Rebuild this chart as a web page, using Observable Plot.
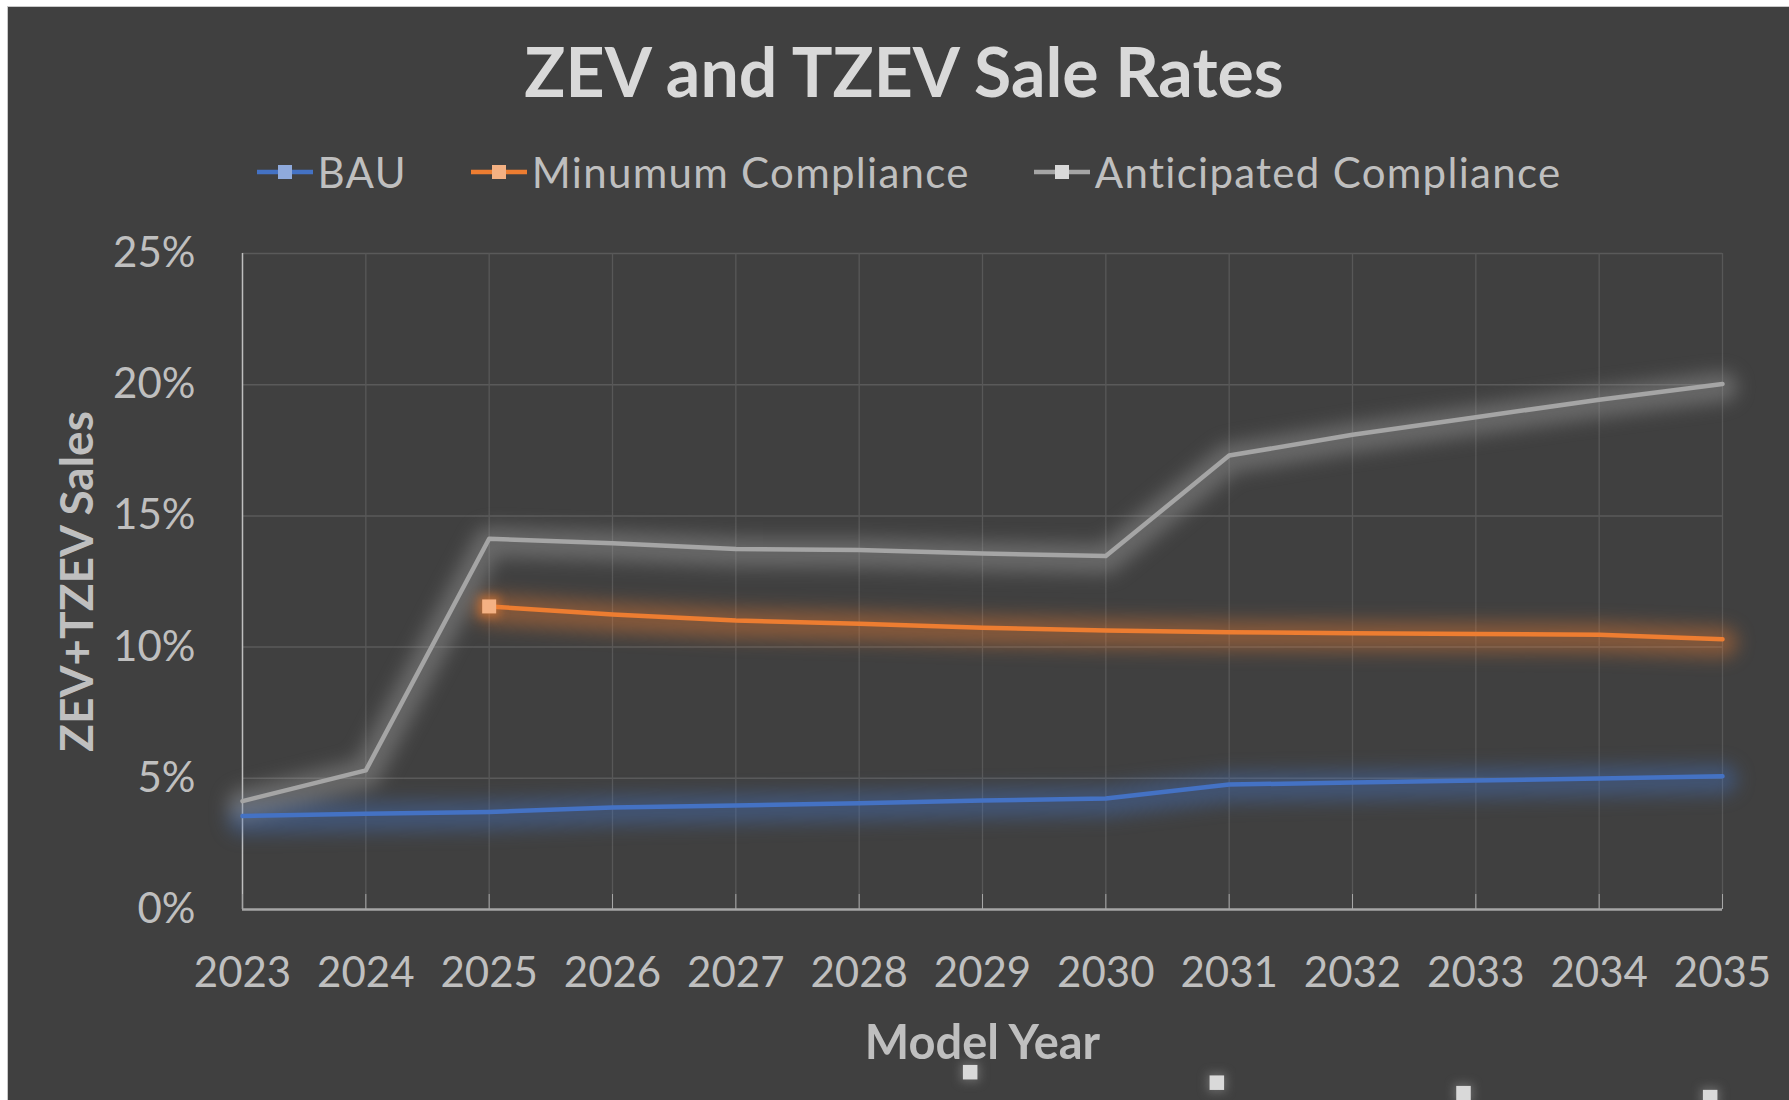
<!DOCTYPE html>
<html><head><meta charset="utf-8">
<script src="https://cdn.jsdelivr.net/npm/d3@7"></script>
<script src="https://cdn.jsdelivr.net/npm/@observablehq/plot@0.6"></script>
<style>
html,body{margin:0;padding:0;background:#fff;width:1789px;height:1100px;overflow:hidden}
#chart{position:absolute;left:7px;top:6px;width:1782px;height:1094px;background:#404040;border-left:1px solid #c9c9c9;border-top:1px solid #c9c9c9;font-family:Lato,sans-serif;overflow:hidden}
#header{position:relative;height:200px}
#title{position:absolute;left:10px;right:0;top:30px;text-align:center;font-weight:700;font-size:68px;line-height:1;color:#d9d9d9;white-space:nowrap}
#legend{position:absolute;left:20px;right:0;top:144px;display:flex;justify-content:center;align-items:center;font-size:42px;line-height:1;color:#bfbfbf;white-space:nowrap;letter-spacing:1.3px}
.item{display:flex;align-items:center;margin:0 32px}
.item svg{margin-right:5px}
#plot svg{display:block}
</style></head>
<body>
<div id="chart">
  <div id="header"><div id="title"></div><div id="legend"></div></div>
  <div id="plot"></div>
</div>
<script>
const titleText = "ZEV and TZEV Sale Rates";
const xLabel = "Model Year";
const yLabel = "ZEV+TZEV Sales";
const years = [2023, 2024, 2025, 2026, 2027, 2028, 2029, 2030, 2031, 2032, 2033, 2034, 2035];
const bau = [3.56, 3.65, 3.72, 3.89, 3.96, 4.05, 4.15, 4.23, 4.76, 4.84, 4.92, 4.99, 5.08];
const minimum = [null, null, 11.55, 11.24, 11.01, 10.89, 10.74, 10.63, 10.57, 10.53, 10.50, 10.47, 10.30];
const anticipated = [4.13, 5.30, 14.13, 13.96, 13.74, 13.70, 13.57, 13.47, 17.30, 18.09, 18.76, 19.43, 20.03];
const seriesNames = ["BAU", "Minumum Compliance", "Anticipated Compliance"];
const lineColors = ["#4472c4", "#ed7d31", "#a5a5a5"];
const markerColors = ["#8faadc", "#f4b183", "#d9d9d9"];
const yTicks = [0, 5, 10, 15, 20, 25];
// stray marker squares seen below the chart
const strayX = [2028.9, 2030.9, 2032.9, 2034.9];
const strayY = [-6.2, -6.6, -7.0, -7.15];

document.getElementById("title").textContent = titleText;
const legend = document.getElementById("legend");
seriesNames.forEach((name, i) => {
  const item = document.createElement("div");
  item.className = "item";
  item.innerHTML = `<svg width="56" height="20"><line x1="0" x2="56" y1="10" y2="10" stroke="${lineColors[i]}" stroke-width="4.5"/><rect x="21" y="3" width="14" height="14" fill="${markerColors[i]}"/></svg><span>${name}</span>`;
  legend.appendChild(item);
});

const rows = [];
[bau, minimum, anticipated].forEach((vals, s) => vals.forEach((v, i) => {
  if (v != null) rows.push({series: seriesNames[s], year: years[i], value: v});
}));
const firstMin = rows.filter(d => d.series === seriesNames[1]).slice(0, 1);
const stray = strayX.map((x, i) => ({year: x, value: strayY[i]}));

const svg = Plot.plot({
  width: 1781, height: 893,
  marginLeft: 234, marginRight: 67, marginTop: 46, marginBottom: 191,
  style: {fontFamily: "Lato, sans-serif", fontSize: "42px", color: "#bfbfbf", background: "transparent", overflow: "visible"},
  x: {domain: [years[0], years[years.length - 1]]},
  y: {domain: [yTicks[0], yTicks[yTicks.length - 1]]},
  color: {domain: seriesNames, range: lineColors},
  marks: [
    Plot.gridY(yTicks.slice(1), {stroke: "#5a5a5a", strokeOpacity: 1, strokeWidth: 1.5}),
    Plot.gridX(years.slice(1), {stroke: "#585858", strokeOpacity: 1, strokeWidth: 1.3}),
    Plot.ruleX([years[0]], {stroke: "#bfbfbf", strokeWidth: 1.5}),
    Plot.line(rows, {x: "year", y: "value", z: "series", stroke: "series", strokeWidth: 30, strokeOpacity: 0.4, dy: 3, imageFilter: "blur(9px)"}),
    Plot.line(rows, {x: "year", y: "value", z: "series", stroke: "series", strokeWidth: 4.5}),
    Plot.ruleY([0], {stroke: "#a6a6a6", strokeWidth: 2.5}),
    Plot.axisX({ticks: years, tickSize: 15, dy: -15, tickPadding: 48, tickFormat: d => String(d), label: null, stroke: "#a6a6a6", fill: "#bfbfbf", fontSize: 42}),
    Plot.axisY({ticks: yTicks, tickSize: 0, tickPadding: 47, tickFormat: d => d + "%", label: null, fill: "#bfbfbf", fontSize: 42}),
    Plot.dot(firstMin, {x: "year", y: "value", symbol: "square", r: 12, fill: lineColors[1], fillOpacity: 0.55, imageFilter: "blur(5px)"}),
    Plot.dot(firstMin, {x: "year", y: "value", symbol: "square", r: 7.9, fill: markerColors[1]}),
    Plot.dot(stray, {x: "year", y: "value", symbol: "square", r: 11, fill: "#9a9a9a", fillOpacity: 0.45, imageFilter: "blur(5px)"}),
    Plot.dot(stray, {x: "year", y: "value", symbol: "square", r: 8.2, fill: markerColors[2]}),
    Plot.text([xLabel], {frameAnchor: "bottom", dy: 134, lineAnchor: "middle", textAnchor: "middle", fontWeight: "bold", fontSize: 47, fill: "#bfbfbf"}),
    Plot.text([yLabel], {frameAnchor: "left", dx: -164, rotate: -90, lineAnchor: "middle", textAnchor: "middle", fontWeight: "bold", fontSize: 46, fill: "#bfbfbf"})
  ]
});
// fallback blur for glow layers if imageFilter is unsupported
svg.querySelectorAll("g").forEach(g => {
  const sw = g.getAttribute("stroke-width"), fo = g.getAttribute("fill-opacity");
  if (sw === "30" || fo === "0.55" || fo === "0.45") {
    if (!g.getAttribute("filter")) g.style.filter = sw === "30" ? "blur(9px)" : "blur(5px)";
  }
});
document.getElementById("plot").appendChild(svg);
</script>
</body></html>
